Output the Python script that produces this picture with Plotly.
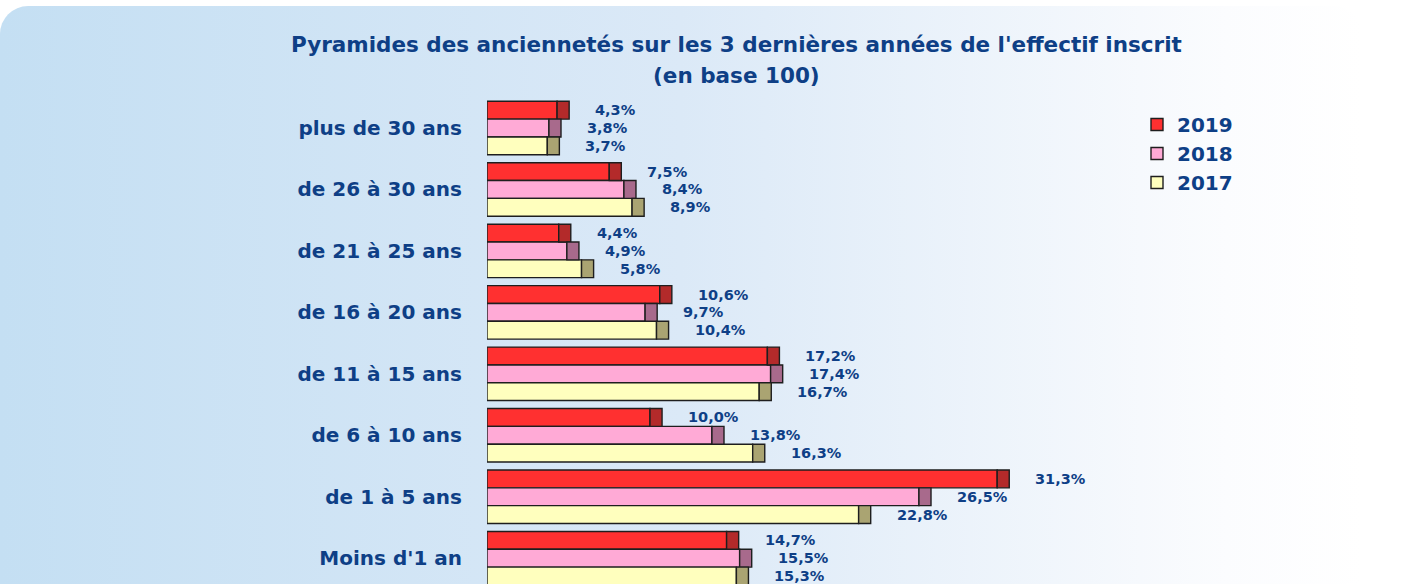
import base64
import plotly.graph_objects as go

# ---- data ----
categories = ["plus de 30 ans", "de 26 à 30 ans", "de 21 à 25 ans", "de 16 à 20 ans",
              "de 11 à 15 ans", "de 6 à 10 ans", "de 1 à 5 ans", "Moins d'1 an"]
years = ["2019", "2018", "2017"]
v2019 = [4.3, 7.5, 4.4, 10.6, 17.2, 10.0, 31.3, 14.7]
v2018 = [3.8, 8.4, 4.9, 9.7, 17.4, 13.8, 26.5, 15.5]
v2017 = [3.7, 8.9, 5.8, 10.4, 16.7, 16.3, 22.8, 15.3]
series = [v2019, v2018, v2017]

# ---- styles ----
face_colors = ["#ff3030", "#ffaad6", "#ffffbe"]
cap_colors = ["#b32a2a", "#a86a8c", "#aaa472"]
text_color = "#0e3f86"
FONT = "DejaVu Sans"
CAP = 0.74  # depth of the 3D end cap, in axis units

W, H = 1403, 584
L, R, T, B = 487, 101, 97, 0
pw = W - L - R
ph = H - T - B


def px_x(px):
    return (px - L) / pw


def px_y(py):
    return (H - B - py) / ph


fig = go.Figure()
for i, (yr, vals) in enumerate(zip(years, series)):
    fig.add_trace(go.Bar(
        y=categories, x=vals, orientation="h", name=yr, offsetgroup=yr,
        marker=dict(color=face_colors[i], line=dict(color="#1e1e1e", width=1.4)),
        hoverinfo="skip"))
for i, (yr, vals) in enumerate(zip(years, series)):
    fig.add_trace(go.Bar(
        y=categories, x=[CAP] * len(vals), base=vals, orientation="h",
        offsetgroup=yr, showlegend=False,
        marker=dict(color=cap_colors[i], line=dict(color="#1e1e1e", width=1.4)),
        hoverinfo="skip"))

annotations = []
offsets = [-0.29, 0.0, 0.29]  # reversed axis: negative is up
for i, vals in enumerate(series):
    for k, v in enumerate(vals):
        annotations.append(dict(
            x=v + CAP, y=k + offsets[i], xref="x", yref="y",
            text=f"{v:.1f}%".replace(".", ","), showarrow=False,
            xanchor="left", yanchor="middle", xshift=24,
            font=dict(family=FONT, size=14.5, color=text_color, weight="bold")))

annotations.append(dict(
    x=px_x(736), y=px_y(45), xref="paper", yref="paper", xanchor="center", yanchor="middle",
    text="<b>Pyramides des anciennetés sur les 3 dernières années de l'effectif inscrit</b>",
    showarrow=False, font=dict(family=FONT, size=21.5, color=text_color)))
annotations.append(dict(
    x=px_x(736), y=px_y(75), xref="paper", yref="paper", xanchor="center", yanchor="middle",
    text="<b>(en base 100)</b>",
    showarrow=False, font=dict(family=FONT, size=21.5, color=text_color)))

# background rounded gradient panel
svg = (f"<svg xmlns='http://www.w3.org/2000/svg' width='{W}' height='{H}' viewBox='0 0 {W} {H}' "
       "preserveAspectRatio='none'><defs><linearGradient id='g' x1='0' y1='0' x2='1' y2='0'>"
       "<stop offset='0' stop-color='#c4dff3'/><stop offset='0.5' stop-color='#dbe9f7'/>"
       "<stop offset='0.9' stop-color='#fbfcfe'/><stop offset='1' stop-color='#ffffff'/>"
       "</linearGradient></defs>"
       f"<rect x='0' y='6' width='1362' height='{H + 40}' rx='28' fill='url(#g)'/></svg>")
src = "data:image/svg+xml;base64," + base64.b64encode(svg.encode()).decode()
fig.add_layout_image(dict(
    source=src, xref="paper", yref="paper",
    x=px_x(0), y=px_y(0), sizex=W / pw, sizey=H / ph,
    xanchor="left", yanchor="top", sizing="stretch", layer="below"))

fig.update_layout(
    width=W, height=H,
    margin=dict(l=L, r=R, t=T, b=B, pad=0),
    paper_bgcolor="white", plot_bgcolor="rgba(0,0,0,0)",
    barmode="group", bargap=0.13, bargroupgap=0,
    showlegend=True,
    legend=dict(x=px_x(1137), y=px_y(105), xanchor="left", yanchor="top",
                bgcolor="rgba(0,0,0,0)",
                font=dict(family=FONT, size=20, color=text_color, weight="bold"),
                itemwidth=30, tracegroupgap=0),
    annotations=annotations,
    xaxis=dict(range=[0, 50], showgrid=False, zeroline=False, showticklabels=False,
               showline=False, ticks=""),
    yaxis=dict(categoryorder="array", categoryarray=categories,
               range=[7.42, -0.505], showgrid=False, zeroline=False, ticks="",
               ticklabelstandoff=24,
               tickfont=dict(family=FONT, size=20, color=text_color, weight="bold")),
)

fig.write_html("out.html", config={"displayModeBar": False},
               post_script="document.body.style.margin='0px';")
